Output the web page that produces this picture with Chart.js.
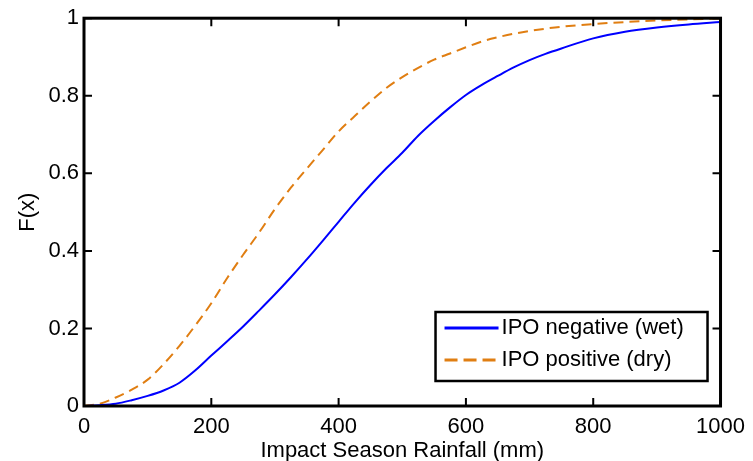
<!DOCTYPE html>
<html>
<head>
<meta charset="utf-8">
<script src="https://cdn.jsdelivr.net/npm/chart.js@4/dist/chart.umd.min.js"></script>
<style>
  html, body { margin: 0; padding: 0; background: #fff; }
  #wrap { width: 753px; height: 461px; }
</style>
</head>
<body>
<div id="wrap"><canvas id="chart"></canvas></div>
<script>
// rainfall (mm) at which both CDFs were read
const rainfall = [0, 25, 50, 75, 100, 125, 150, 175, 200, 225, 250, 275, 300, 325, 350, 375, 400,
  425, 450, 475, 500, 525, 550, 575, 600, 625, 650, 675, 700, 725, 750, 800, 850, 900, 950, 1000];
const ipoNegative = [0, 0.002, 0.006, 0.015, 0.026, 0.040, 0.060, 0.092, 0.130, 0.167, 0.205, 0.246,
  0.288, 0.332, 0.378, 0.426, 0.475, 0.524, 0.570, 0.613, 0.653, 0.697, 0.735, 0.770, 0.802, 0.828,
  0.851, 0.873, 0.892, 0.908, 0.922, 0.948, 0.965, 0.976, 0.984, 0.990];
const ipoPositive = [0, 0.006, 0.022, 0.042, 0.068, 0.108, 0.155, 0.208, 0.265, 0.330, 0.390, 0.447,
  0.508, 0.563, 0.612, 0.660, 0.708, 0.747, 0.785, 0.820, 0.848, 0.872, 0.893, 0.909, 0.925, 0.940,
  0.951, 0.960, 0.967, 0.973, 0.978, 0.985, 0.990, 0.994, 0.997, 0.999];
const xTicks = [0, 200, 400, 600, 800, 1000];
const yTicks = [0, 0.2, 0.4, 0.6, 0.8, 1];

const FONT = 'Liberation Sans, Arial, sans-serif';

// matlab-ish box with inward ticks on all sides, plus legend inside the axes
const frame = {
  id: 'frame',
  afterDatasetsDraw(c) {
    const ctx = c.ctx, a = c.chartArea, x = c.scales.x, y = c.scales.y;
    ctx.save();
    ctx.strokeStyle = '#000';
    ctx.lineWidth = 3;
    ctx.strokeRect(a.left, a.top, a.right - a.left, a.bottom - a.top);
    ctx.lineWidth = 2;
    ctx.beginPath();
    xTicks.forEach(v => {
      const px = x.getPixelForValue(v);
      ctx.moveTo(px, a.bottom); ctx.lineTo(px, a.bottom - 8);
      ctx.moveTo(px, a.top); ctx.lineTo(px, a.top + 8);
    });
    yTicks.forEach(v => {
      const py = y.getPixelForValue(v);
      ctx.moveTo(a.left, py); ctx.lineTo(a.left + 8, py);
      ctx.moveTo(a.right, py); ctx.lineTo(a.right - 8, py);
    });
    ctx.stroke();

    // legend
    const w = 272, h = 69;
    const lx = a.right - 13 - w, ly = a.bottom - 25 - h;
    ctx.fillStyle = '#fff';
    ctx.fillRect(lx, ly, w, h);
    ctx.lineWidth = 2.5;
    ctx.strokeRect(lx, ly, w, h);
    ctx.font = '22px ' + FONT;
    ctx.textBaseline = 'middle';
    c.data.datasets.forEach((ds, i) => {
      const ry = ly + 16 + i * 32;
      ctx.strokeStyle = ds.borderColor;
      ctx.lineWidth = 3;
      ctx.setLineDash(ds.borderDash ? [13, 6] : []);
      ctx.beginPath();
      ctx.moveTo(lx + 9, ry); ctx.lineTo(lx + 63, ry);
      ctx.stroke();
      ctx.setLineDash([]);
      ctx.fillStyle = '#000';
      ctx.fillText(ds.label, lx + 66, ry);
    });
    ctx.restore();
  }
};

new Chart(document.getElementById('chart'), {
  type: 'line',
  data: {
    datasets: [
      {
        label: 'IPO negative (wet)',
        data: rainfall.map((r, i) => ({ x: r, y: ipoNegative[i] })),
        borderColor: '#0000ff',
        borderWidth: 2,
        pointRadius: 0,
        cubicInterpolationMode: 'monotone'
      },
      {
        label: 'IPO positive (dry)',
        data: rainfall.map((r, i) => ({ x: r, y: ipoPositive[i] })),
        borderColor: '#e07e12',
        borderWidth: 2,
        borderDash: [10, 6],
        pointRadius: 0,
        cubicInterpolationMode: 'monotone'
      }
    ]
  },
  options: {
    responsive: true,
    maintainAspectRatio: false,
    animation: false,
    layout: { padding: { top: 18, right: 31, left: 0, bottom: 0 } },
    plugins: { legend: { display: false }, tooltip: { enabled: false } },
    scales: {
      x: {
        type: 'linear',
        min: 0, max: 1000,
        afterBuildTicks: s => { s.ticks = xTicks.map(v => ({ value: v })); },
        afterFit: s => { s.height = 55; },
        grid: { display: false, drawTicks: false },
        border: { display: false },
        ticks: { color: '#000', font: { family: FONT, size: 22 }, padding: 8, maxRotation: 0,
                 callback: v => String(v) },
        title: { display: true, text: 'Impact Season Rainfall (mm)', color: '#000',
                 font: { family: FONT, size: 22 }, padding: { top: 0, bottom: -3 } }
      },
      y: {
        min: 0, max: 1,
        afterBuildTicks: s => { s.ticks = yTicks.map(v => ({ value: v })); },
        afterFit: s => { s.width = 84; },
        grid: { display: false, drawTicks: false },
        border: { display: false },
        ticks: { color: '#000', font: { family: FONT, size: 22 }, padding: 5,
                 callback: v => String(Math.round(v * 10) / 10) },
        title: { display: true, text: 'F(x)', color: '#000',
                 font: { family: FONT, size: 22 }, padding: { top: 15, bottom: 0 } }
      }
    }
  },
  plugins: [frame]
});
</script>
</body>
</html>
